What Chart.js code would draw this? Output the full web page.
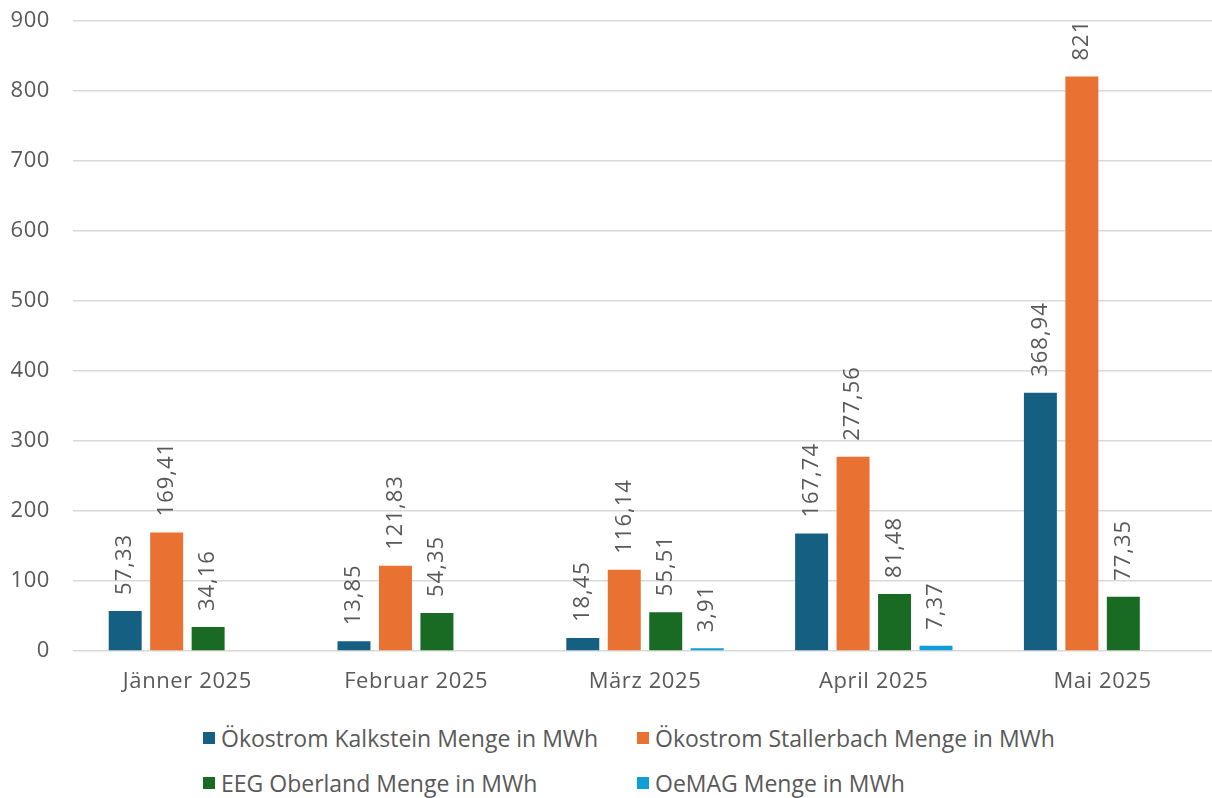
<!DOCTYPE html>
<html lang="de">
<head>
    <meta charset="UTF-8">
    <title>Strommengen 2025</title>
    <script src="https://cdn.jsdelivr.net/npm/chart.js"></script>
    <style>
        html, body {
            margin: 0;
            padding: 0;
            background: #fff;
            overflow: hidden;
        }
        .chart-wrap {
            position: absolute;
            left: 0;
            top: -15px;
            width: 1217px;
            height: 725px;
        }
        .legend {
            position: absolute;
            left: 0;
            top: 0;
            font-family: "Open Sans", sans-serif;
            font-size: 23px;
            color: #595959;
        }
        .legend-item {
            position: absolute;
            white-space: nowrap;
            display: flex;
            align-items: center;
            height: 30px;
        }
        .legend-box {
            width: 12px;
            height: 12px;
            margin-right: 6px;
        }
    </style>
</head>
<body>
    <div class="chart-wrap">
        <canvas id="mengeChart"></canvas>
    </div>
    <div class="legend" id="legend"></div>

    <script>
        // Werte
        const months = ['Jänner 2025', 'Februar 2025', 'März 2025', 'April 2025', 'Mai 2025'];
        const seriesNames = [
            'Ökostrom Kalkstein Menge in MWh',
            'Ökostrom Stallerbach Menge in MWh',
            'EEG Oberland Menge in MWh',
            'OeMAG Menge in MWh'
        ];
        const kalkstein = [57.33, 13.85, 18.45, 167.74, 368.94];
        const stallerbach = [169.41, 121.83, 116.14, 277.56, 821];
        const eegOberland = [34.16, 54.35, 55.51, 81.48, 77.35];
        const oemag = [null, null, 3.91, 7.37, null];
        const yTicks = [0, 100, 200, 300, 400, 500, 600, 700, 800, 900];

        const colors = ['#156082', '#E97132', '#196B24', '#0F9ED5'];
        const textGrey = '#595959';
        const fontFamily = '"Open Sans", sans-serif';

        // deutsche Schreibweise mit Komma
        function fmt(v) {
            return String(v).replace('.', ',');
        }

        // etwas breitere Schrift wie im Original
        const spacing = {
            id: 'spacing',
            beforeDraw(chart) {
                chart.ctx.letterSpacing = '0.6px';
            }
        };

        // Datenbeschriftungen senkrecht über den Balken
        const valueLabels = {
            id: 'valueLabels',
            afterDatasetsDraw(chart) {
                const ctx = chart.ctx;
                ctx.save();
                ctx.letterSpacing = '1px';
                ctx.font = '22px ' + fontFamily;
                ctx.fillStyle = textGrey;
                ctx.textAlign = 'left';
                ctx.textBaseline = 'middle';
                chart.data.datasets.forEach((ds, i) => {
                    const meta = chart.getDatasetMeta(i);
                    meta.data.forEach((bar, j) => {
                        const v = ds.data[j];
                        if (v === null || v === undefined) return;
                        ctx.save();
                        ctx.translate(bar.x, bar.y - 16);
                        ctx.rotate(-Math.PI / 2);
                        ctx.fillText(fmt(v), 0, 0);
                        ctx.restore();
                    });
                });
                ctx.restore();
            }
        };

        const allSeries = [kalkstein, stallerbach, eegOberland, oemag];

        const ctx = document.getElementById('mengeChart').getContext('2d');
        const chart = new Chart(ctx, {
            type: 'bar',
            data: {
                labels: months,
                datasets: allSeries.map((values, i) => ({
                    label: seriesNames[i],
                    data: values,
                    backgroundColor: colors[i],
                    borderWidth: 0,
                    categoryPercentage: 0.725,
                    barPercentage: 0.795
                }))
            },
            options: {
                responsive: true,
                maintainAspectRatio: false,
                animation: false,
                layout: {
                    padding: { top: 5, left: 0, right: 0, bottom: 0 }
                },
                plugins: {
                    legend: { display: false },
                    tooltip: { enabled: false }
                },
                scales: {
                    x: {
                        grid: { display: false, drawTicks: false },
                        border: { display: false },
                        ticks: {
                            color: textGrey,
                            font: { family: fontFamily, size: 22 },
                            padding: 18,
                            maxRotation: 0
                        },
                        afterFit(scale) {
                            scale.height = 59;
                        }
                    },
                    y: {
                        min: 0,
                        max: 900,
                        afterBuildTicks(scale) {
                            scale.ticks = yTicks.map(v => ({ value: v }));
                        },
                        grid: {
                            color: '#d9d9d9',
                            lineWidth: 1.5,
                            drawTicks: false
                        },
                        border: { display: false },
                        ticks: {
                            color: textGrey,
                            font: { family: fontFamily, size: 22 },
                            padding: 23
                        },
                        afterFit(scale) {
                            scale.width = 73;
                        }
                    }
                }
            },
            plugins: [spacing, valueLabels]
        });

        // Legende in zwei Spalten wie im Original
        const legendPos = [
            { x: 203, y: 723 },
            { x: 637, y: 723 },
            { x: 203, y: 768 },
            { x: 637, y: 768 }
        ];
        const legendEl = document.getElementById('legend');
        chart.data.datasets.forEach((ds, i) => {
            const item = document.createElement('div');
            item.className = 'legend-item';
            item.style.left = legendPos[i].x + 'px';
            item.style.top = legendPos[i].y + 'px';
            item.innerHTML = `<span class="legend-box" style="background:${ds.backgroundColor}"></span>${ds.label}`;
            legendEl.appendChild(item);
        });
    </script>
</body>
</html>
